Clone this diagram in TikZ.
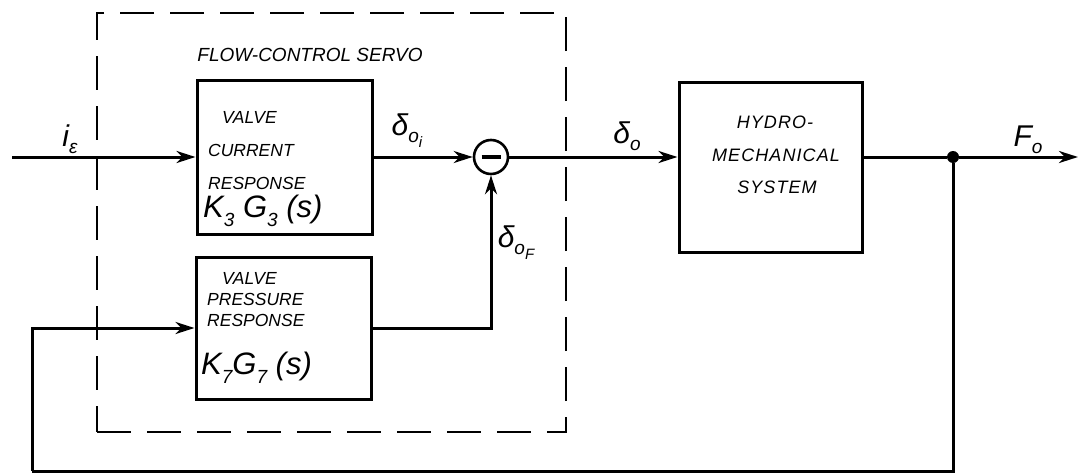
\documentclass[tikz,border=0pt]{standalone}
\usepackage{fontspec}
\setmainfont{Liberation Sans}
\usetikzlibrary{arrows.meta,positioning}
\newcommand{\lowsub}[1]{\raisebox{-9pt}{\fontsize{19}{19}\selectfont #1}}
\newcommand{\sigsub}[1]{\raisebox{-7pt}{\fontsize{19}{19}\selectfont #1}}
\newcommand{\tinysub}[1]{\raisebox{-5pt}{\fontsize{15}{15}\selectfont #1}}
\tikzset{
  block/.style={draw=black,line width=3pt,inner sep=0pt},
  servo/.style={draw=black,line width=2.6pt,dash pattern=on 34pt off 16pt},
  sumjct/.style={circle,draw=black,line width=2.6pt,minimum size=34pt,inner sep=0pt},
  tag/.style={font=\fontsize{17.5}{19}\selectfont\itshape,inner sep=0pt},
  widetag/.style={font=\fontsize{18}{20}\selectfont\itshape\addfontfeatures{LetterSpace=6},inner sep=0pt},
  gain/.style={font=\fontsize{31}{33}\selectfont\itshape,inner sep=0pt},
  sig/.style={font=\fontsize{30}{32}\selectfont\itshape,inner sep=0pt},
  flow/.style={-{Stealth[length=19pt,width=12pt,inset=6pt]},line width=3pt},
  wire/.style={line width=3pt}
}

\begin{document}
\begin{tikzpicture}[x=1pt,y=-1pt]
  \useasboundingbox (0,0) rectangle (1079,474);
  % servo frame and blocks
  \node[servo,minimum width=469pt,minimum height=419pt] (servo) at (331.5,222.5) {};
  \node[block,minimum width=175pt,minimum height=154pt] (current) at (284.5,157) {};
  \node[block,minimum width=175pt,minimum height=142pt] (pressure) at (283.5,328) {};
  \node[sumjct] (sum) at (491,157) {\rule[-2pt]{19pt}{4pt}};
  \node[block,minimum width=183pt,minimum height=170pt] (hydro) at (770.5,167) {};
  \node[circle,fill=black,inner sep=0pt,minimum size=12pt] (pick) at (953,157) {};
  \coordinate (iin) at (12,157);
  \coordinate (fout) at (1078,157);
  \coordinate (fbr) at (953,471);
  \coordinate (fbl) at (32,471);

  % texts
  \node[tag,font=\fontsize{19}{21}\selectfont\itshape] (title) at (310,55) {FLOW-CONTROL SERVO};
  \node[tag,anchor=west] (cur1) at (222,117) {VALVE};
  \node[tag,anchor=west] (cur2) at (208,150) {CURRENT};
  \node[tag,anchor=west] (cur3) at (208,183) {RESPONSE};
  \node[gain,anchor=west] (curgain) at (203,211) {K\lowsub{3} G\lowsub{3} (s)};
  \node[tag,anchor=west] (prs1) at (222,278) {VALVE};
  \node[tag,anchor=west] (prs2) at (207,299) {PRESSURE};
  \node[tag,anchor=west] (prs3) at (207,320) {RESPONSE};
  \node[gain,anchor=west] (prsgain) at (201,368) {K\lowsub{7}G\lowsub{7} (s)};
  \node[widetag] (hyd1) at (775,122) {HYDRO-};
  \node[widetag] (hyd2) at (776,155) {MECHANICAL};
  \node[widetag] (hyd3) at (777,187) {SYSTEM};

  \node[sig] (ieps) at (70,139) {i\sigsub{ε}};
  \node[sig] (doi) at (407,131) {δ\sigsub{o\tinysub{i}}};
  \node[sig] (dof) at (516,243) {δ\sigsub{o\tinysub{F}}};
  \node[sig] (dout) at (627,136) {δ\sigsub{o}};
  \node[sig] (fo) at (1028,140) {F\sigsub{o}};

  % signal lines
  \draw[flow] (iin) -- (current);
  \draw[flow] (current) -- (sum);
  \draw[flow] (sum) -- (sum -| hydro.west);
  \draw[wire] (hydro.east |- pick) -- (pick);
  \draw[flow] (pick) -- (fout);
  \draw[wire] (pick) -- (fbr) -- (fbl);
  \draw[flow] (fbl) |- (pressure);
  \draw[flow] (pressure) -| (sum);
\end{tikzpicture}
\end{document}
